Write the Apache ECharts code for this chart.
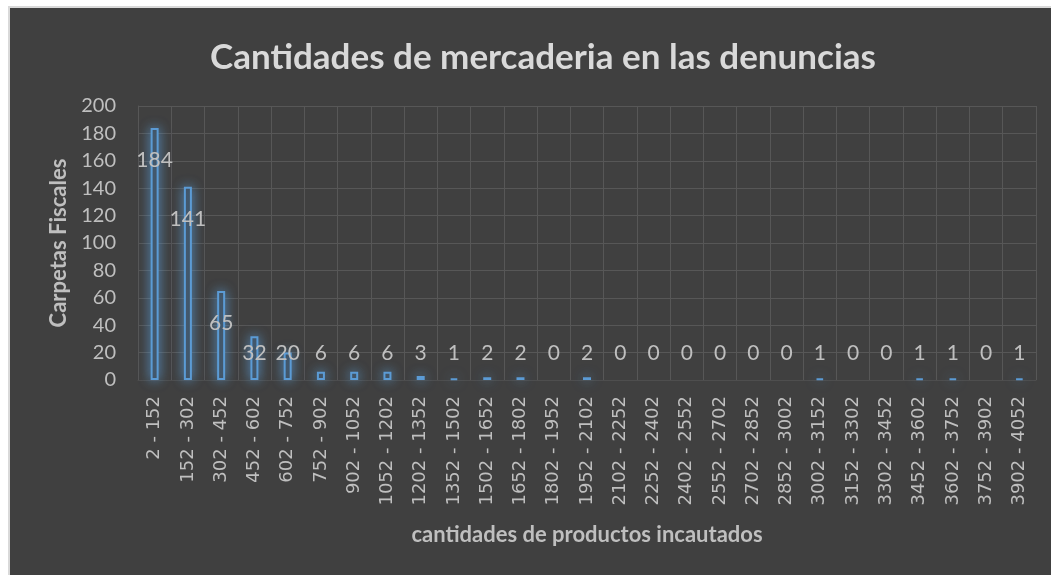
<!DOCTYPE html>
<html>
<head>
<meta charset="utf-8">
<script src="https://cdn.jsdelivr.net/npm/echarts@6/dist/echarts.min.js"></script>
<style>
    html, body { margin: 0; padding: 0; background: #ffffff; }
    #chart {
        position: absolute;
        left: 8px;
        top: 6px;
        width: 1043px;
        height: 569px;
        border-left: 2px solid #d9d9d9;
        border-top: 2px solid #d9d9d9;
        background: #404040;
    }
</style>
</head>
<body>
<div id="chart"></div>
<script>
// rangos de cantidades (eje x)
const categories = [
    '2 - 152', '152 - 302', '302 - 452', '452 - 602', '602 - 752', '752 - 902',
    '902 - 1052', '1052 - 1202', '1202 - 1352', '1352 - 1502', '1502 - 1652',
    '1652 - 1802', '1802 - 1952', '1952 - 2102', '2102 - 2252', '2252 - 2402',
    '2402 - 2552', '2552 - 2702', '2702 - 2852', '2852 - 3002', '3002 - 3152',
    '3152 - 3302', '3302 - 3452', '3452 - 3602', '3602 - 3752', '3752 - 3902',
    '3902 - 4052'
];
// carpetas fiscales por rango
const carpetas = [184, 141, 65, 32, 20, 6, 6, 6, 3, 1, 2, 2, 0, 2, 0, 0, 0, 0, 0, 0, 1, 0, 0, 1, 1, 0, 1];
const yTicks = [0, 20, 40, 60, 80, 100, 120, 140, 160, 180, 200];

const font = 'Lato, "Open Sans", sans-serif';
const gridTop = 98, gridBottom = 197;

const chart = echarts.init(document.getElementById('chart'));

// las barras en cero no dibujan borde ni brillo
const barData = carpetas.map(v => v === 0
    ? { value: v, itemStyle: { borderWidth: 0, shadowBlur: 0, color: 'transparent' } }
    : v);

chart.setOption({
    backgroundColor: '#404040',
    title: {
        text: 'Cantidades de mercaderia en las denuncias',
        left: 528,
        top: 27,
        textAlign: 'center',
        textStyle: { color: '#d9d9d9', fontFamily: font, fontWeight: 'bold', fontSize: 35 }
    },
    grid: { left: 128, right: 17, top: gridTop, bottom: gridBottom },
    xAxis: {
        type: 'category',
        data: categories,
        name: 'cantidades de productos incautados',
        nameLocation: 'middle',
        nameGap: 144,
        nameTextStyle: { color: '#bfbfbf', fontFamily: font, fontWeight: 'bold', fontSize: 22 },
        axisLine: { lineStyle: { color: '#4e4e4e' } },
        axisTick: { show: false },
        axisLabel: { color: '#bfbfbf', fontFamily: '"DejaVu Sans", sans-serif', fontSize: 18, rotate: 90, margin: 16, interval: 0 },
        splitLine: { show: true, interval: 0, lineStyle: { color: '#575757', width: 1 } }
    },
    yAxis: {
        type: 'value',
        min: yTicks[0],
        max: yTicks[yTicks.length - 1],
        interval: 20,
        name: 'Carpetas Fiscales',
        nameLocation: 'middle',
        nameGap: 65,
        nameTextStyle: { color: '#bfbfbf', fontFamily: font, fontWeight: 'bold', fontSize: 22 },
        axisLine: { show: true, lineStyle: { color: '#575757' } },
        axisLabel: { color: '#bfbfbf', fontFamily: font, fontSize: 20, margin: 22 },
        splitLine: { lineStyle: { color: '#575757', width: 1 } }
    },
    series: [{
        type: 'bar',
        data: barData,
        barWidth: 8,
        itemStyle: {
            color: '#3e4853',
            borderColor: '#5b9bd5',
            borderWidth: 2,
            shadowColor: 'rgba(91,155,213,0.8)',
            shadowBlur: 12
        },
        label: {
            show: true,
            position: 'insideTop',
            color: '#bfbfbf',
            fontFamily: font,
            fontSize: 21
        },
        // etiquetas bajo el extremo de la barra, sin bajar de una altura minima
        labelLayout: function (params) {
            const floorY = chart.getHeight() - gridBottom - 27;
            const r = params.rect;
            return {
                x: r.x + r.width / 2,
                y: Math.min(r.y + 32, floorY),
                align: 'center',
                verticalAlign: 'middle'
            };
        }
    }]
});
</script>
</body>
</html>
